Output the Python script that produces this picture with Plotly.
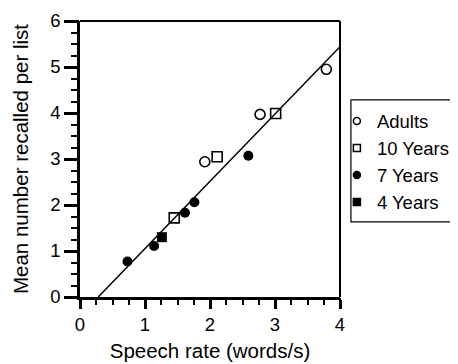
import plotly.graph_objects as go

# ---- data ----
adults_x = [1.92, 2.77, 3.79]
adults_y = [2.94, 3.97, 4.95]

ten_x = [1.45, 2.11, 3.01]
ten_y = [1.72, 3.05, 3.99]

seven_x = [0.73, 1.14, 1.615, 1.76, 2.59]
seven_y = [0.77, 1.11, 1.83, 2.06, 3.07]

four_x = [1.26]
four_y = [1.30]

fit_x = [0.28, 4.0]
fit_y = [0.0, 5.44]

x_ticks = [0, 1, 2, 3, 4]
y_ticks = [0, 1, 2, 3, 4, 5, 6]
minor_step = 0.25

FONT = "Liberation Sans, Arial, Helvetica, sans-serif"
FS_TICK = 18.5
FS_TITLE = 20.5
FS_LEG = 18.5

fig = go.Figure()

# empty trace that carries the minor-tick overlay axes
fig.add_trace(go.Scatter(x=[None], y=[None], xaxis="x2", yaxis="y2",
                         mode="markers", showlegend=False, hoverinfo="skip"))

fig.add_trace(go.Scatter(x=fit_x, y=fit_y, mode="lines",
                         line=dict(color="black", width=1.5),
                         showlegend=False, hoverinfo="skip"))

series = [
    ("Adults", adults_x, adults_y, "circle-open", 1.6),
    ("10 Years", ten_x, ten_y, "square-open", 1.6),
    ("7 Years", seven_x, seven_y, "circle", 0),
    ("4 Years", four_x, four_y, "square", 0),
]

for name, xs, ys, sym, lw in series:
    fig.add_trace(go.Scatter(
        x=xs, y=ys, mode="markers", name=name, showlegend=False,
        marker=dict(symbol=sym, size=10, color="black",
                    line=dict(color="black", width=lw)),
    ))
    fig.add_trace(go.Scatter(
        x=[None], y=[None], mode="markers", name=name, showlegend=True,
        marker=dict(symbol=sym, size=7, color="black",
                    line=dict(color="black", width=1.5)),
    ))

def axis_style(ticks, ticklen):
    return dict(
        range=[ticks[0], ticks[-1]],
        tickmode="linear", tick0=ticks[0], dtick=ticks[1] - ticks[0],
        showgrid=False, zeroline=False, showline=True, linecolor="black",
        linewidth=2.5, ticks="outside", tickcolor="black", tickwidth=2.5,
        ticklen=ticklen, automargin=False,
        tickfont=dict(family=FONT, size=FS_TICK, color="black"),
    )

def minor_axis(ticks, ticklen, overlay, anchor):
    return dict(
        range=[ticks[0], ticks[-1]], overlaying=overlay, anchor=anchor,
        tickmode="linear", tick0=ticks[0], dtick=minor_step,
        showgrid=False, zeroline=False, showline=False,
        ticks="outside", ticklen=ticklen, tickwidth=1.5, tickcolor="black",
        showticklabels=False, automargin=False,
    )

fig.update_layout(
    xaxis=dict(title=dict(text="Speech rate (words/s)",
                          font=dict(family=FONT, size=FS_TITLE, color="black"),
                          standoff=10),
               **axis_style(x_ticks, 9)),
    yaxis=dict(title=dict(text="Mean number recalled per list",
                          font=dict(family=FONT, size=FS_TITLE, color="black"),
                          standoff=17),
               **axis_style(y_ticks, 13)),
    xaxis2=dict(side="bottom", **minor_axis(x_ticks, 7, "x", "y")),
    yaxis2=dict(side="left", **minor_axis(y_ticks, 8, "y", "x")),
)

# thinner top and right frame lines
fig.add_shape(type="line", xref="paper", yref="paper", x0=0, x1=1, y0=1, y1=1,
              line=dict(color="black", width=2))
fig.add_shape(type="line", xref="paper", yref="paper", x0=1, x1=1, y0=0, y1=1,
              line=dict(color="black", width=2))
# legend frame (runs off the right edge as in the reference)
fig.add_shape(type="rect", xref="paper", yref="paper",
              x0=1.042, x1=1.6, y0=0.272, y1=0.714,
              line=dict(color="black", width=1.2), fillcolor="rgba(0,0,0,0)")

fig.update_layout(
    width=450, height=356,
    margin=dict(l=72, r=118, t=13, b=67, autoexpand=False),
    paper_bgcolor="white", plot_bgcolor="white",
    font=dict(family=FONT, size=FS_TICK, color="black"),
    legend=dict(x=0.988, xanchor="left", y=0.705, yanchor="top",
                borderwidth=0, bgcolor="rgba(0,0,0,0)",
                font=dict(family=FONT, size=FS_LEG, color="black"),
                itemwidth=30, tracegroupgap=0),
    showlegend=True,
)

fig.write_html("out.html")
